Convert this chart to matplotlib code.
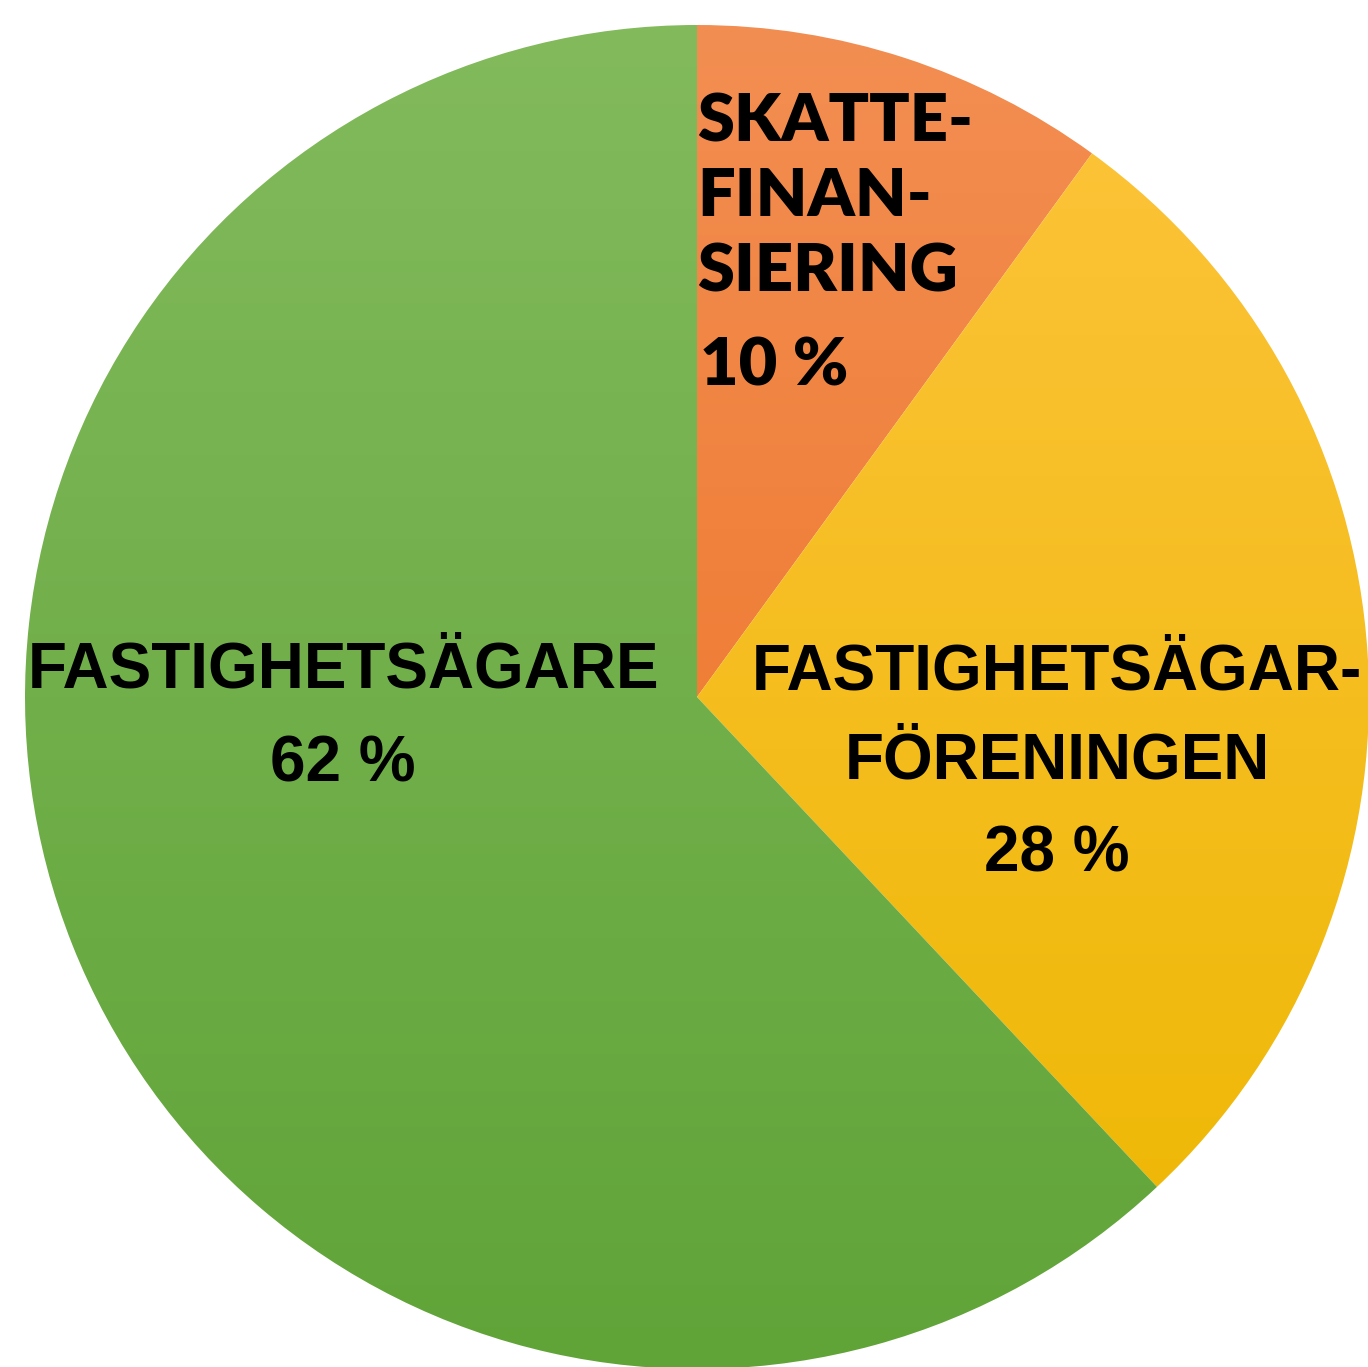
import matplotlib.pyplot as plt
import numpy as np
from matplotlib.colors import LinearSegmentedColormap

# data
labels = ["SKATTE-\nFINAN-\nSIERING", "FASTIGHETSÄGAR-\nFÖRENINGEN", "FASTIGHETSÄGARE"]
shares = [10, 28, 62]
pct_text = ["10 %", "28 %", "62 %"]
grad_top = ["#F38E52", "#FDC43C", "#82BA5C"]
grad_bottom = ["#EB6E1C", "#EDB700", "#60A438"]

W, H = 1368, 1367
cx, cy, R = 697, 670, 672   # pie centre (px from bottom-left) and radius

fig = plt.figure(figsize=(W / 100, H / 100), dpi=100)
ax = fig.add_axes([0, 0, 1, 1])

wedges, _ = ax.pie(shares, startangle=90, counterclock=False, radius=1,
                   wedgeprops=dict(linewidth=0))

# vertical gradient fill in each wedge
grad = np.linspace(1, 0, 256).reshape(-1, 1)
for w, top, bot in zip(wedges, grad_top, grad_bottom):
    w.set_facecolor("none")
    cmap = LinearSegmentedColormap.from_list("g", [bot, top])
    im = ax.imshow(grad, cmap=cmap, extent=[-1, 1, -1, 1], origin="upper",
                   aspect="auto", vmin=0, vmax=1, zorder=1)
    im.set_clip_path(w)

# pie() and imshow() reset the limits, so set them afterwards
ax.set_xlim(-cx / R, (W - cx) / R)
ax.set_ylim(-cy / R, (H - cy) / R)
ax.set_aspect("equal")
ax.axis("off")


def px(x, y_top):
    # pixel position (from top-left) to data coords
    return (x - cx) / R, (H - y_top - cy) / R


arial = dict(family="Liberation Sans", fontweight="bold", color="black",
             fontsize=46, zorder=5)

# green slice
ax.text(*px(343, 670), labels[2], ha="center", va="center", **arial)
ax.text(*px(343, 765), pct_text[2], ha="center", va="center", **arial)

# yellow slice
ax.text(*px(1057, 717), labels[1], ha="center", va="center",
        linespacing=1.6, **arial)
ax.text(*px(1057, 855), pct_text[1], ha="center", va="center", **arial)

# orange slice
gill = dict(family="Lato", fontweight="heavy", color="black", fontsize=48, zorder=5)
ax.text(*px(697, 197), labels[0], ha="left", va="center",
        linespacing=1.27, **gill)
ax.text(*px(700, 366), pct_text[0], ha="left", va="center", **gill)

fig.savefig("out.png", dpi=100, facecolor="white")
